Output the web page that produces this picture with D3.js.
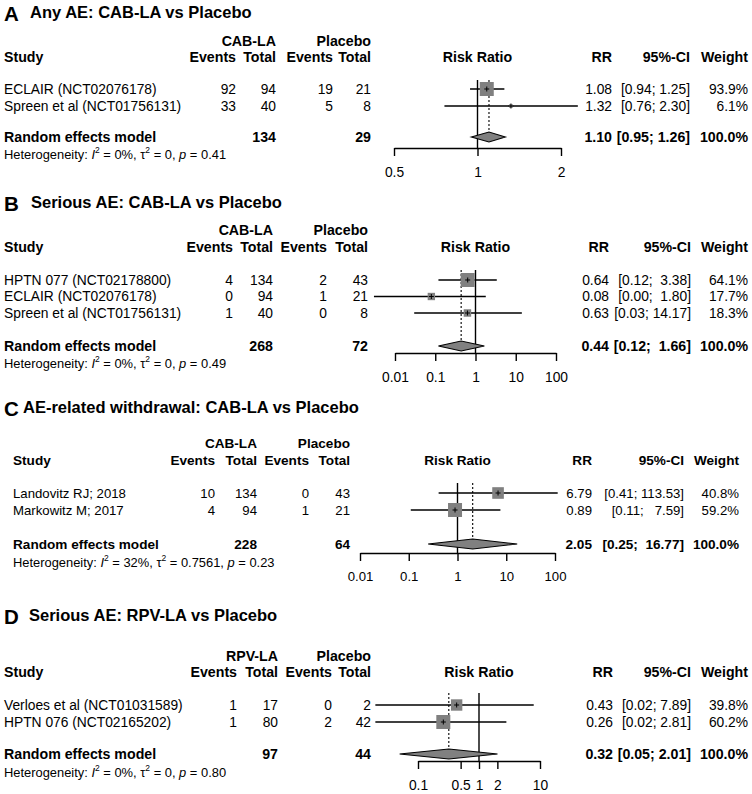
<!DOCTYPE html>
<html><head><meta charset="utf-8">
<script src="https://cdn.jsdelivr.net/npm/d3@7"></script>
<style>
html,body{margin:0;padding:0;background:#fff;}
svg text{font-family:"Liberation Sans",Arial,Helvetica,sans-serif;fill:#000;white-space:pre;}
</style></head>
<body>
<svg id="chart" width="752" height="794"></svg>
<script>
// ---------- DATA ----------
// Panel A: Any AE, CAB-LA vs Placebo
const aStudies = ["ECLAIR (NCT02076178)", "Spreen et al (NCT01756131)"];
const aEvents1 = [92, 33], aTotal1 = [94, 40], aEvents2 = [19, 5], aTotal2 = [21, 8];
const aRR = [1.08, 1.32], aLower = [0.94, 0.76], aUpper = [1.25, 2.30];
const aWeight = [93.9, 6.1];
const aPooled = [1.10, 0.95, 1.26], aTotals = [134, 29], aHet = ["0%", "0", "0.41"];
const aTicks = [0.5, 1, 2];

// Panel B: Serious AE, CAB-LA vs Placebo
const bStudies = ["HPTN 077 (NCT02178800)", "ECLAIR (NCT02076178)", "Spreen et al (NCT01756131)"];
const bEvents1 = [4, 0, 1], bTotal1 = [134, 94, 40], bEvents2 = [2, 1, 0], bTotal2 = [43, 21, 8];
const bRR = [0.64, 0.08, 0.63], bLower = [0.12, 0.003, 0.03], bUpper = [3.38, 1.80, 14.17];
const bWeight = [64.1, 17.7, 18.3];
const bPooled = [0.44, 0.12, 1.66], bTotals = [268, 72], bHet = ["0%", "0", "0.49"];
const bTicks = [0.01, 0.1, 1, 10, 100];

// Panel C: AE-related withdrawal, CAB-LA vs Placebo
const cStudies = ["Landovitz RJ; 2018", "Markowitz M; 2017"];
const cEvents1 = [10, 4], cTotal1 = [134, 94], cEvents2 = [0, 1], cTotal2 = [43, 21];
const cRR = [6.79, 0.89], cLower = [0.41, 0.11], cUpper = [113.53, 7.59];
const cWeight = [40.8, 59.2];
const cPooled = [2.05, 0.25, 16.77], cTotals = [228, 64], cHet = ["32%", "0.7561", "0.23"];
const cTicks = [0.01, 0.1, 1, 10, 100];

// Panel D: Serious AE, RPV-LA vs Placebo
const dStudies = ["Verloes et al (NCT01031589)", "HPTN 076 (NCT02165202)"];
const dEvents1 = [1, 1], dTotal1 = [17, 80], dEvents2 = [0, 2], dTotal2 = [2, 42];
const dRR = [0.43, 0.26], dLower = [0.02, 0.02], dUpper = [7.89, 2.81];
const dWeight = [39.8, 60.2];
const dPooled = [0.32, 0.05, 2.01], dTotals = [97, 44], dHet = ["0%", "0", "0.80"];
const dTicks = [0.1, 0.5, 1, 2, 10];

// ---------- LAYOUT ----------
const panels = [
  {letter:"A", title:"Any AE: CAB-LA vs Placebo", group:"CAB-LA",
   studies:aStudies, e1:aEvents1, n1:aTotal1, e2:aEvents2, n2:aTotal2, rr:aRR, lo:aLower, hi:aUpper, w:aWeight,
   pooled:aPooled, totals:aTotals, het:aHet, ticks:aTicks,
   titleY:12, titleX:30, h1:41, h2:57, rowStart:89, rowStep:17, reY:137, hetY:154, axisY:148, lineTop:80,
   studyX:4, cols:[236,276,333,371], rrX:612, ciX:690, wX:748, range:[394,561], font:13.8},
  {letter:"B", title:"Serious AE: CAB-LA vs Placebo", group:"CAB-LA",
   studies:bStudies, e1:bEvents1, n1:bTotal1, e2:bEvents2, n2:bTotal2, rr:bRR, lo:bLower, hi:bUpper, w:bWeight,
   pooled:bPooled, totals:bTotals, het:bHet, ticks:bTicks,
   titleY:202, titleX:31, h1:230, h2:247, rowStart:280, rowStep:16.5, reY:346, hetY:363, axisY:353, lineTop:270,
   studyX:4, cols:[233,273,327,368], rrX:609, ciX:691, wX:748, range:[395,556], font:13.8},
  {letter:"C", title:"AE-related withdrawal: CAB-LA vs Placebo", group:"CAB-LA",
   studies:cStudies, e1:cEvents1, n1:cTotal1, e2:cEvents2, n2:cTotal2, rr:cRR, lo:cLower, hi:cUpper, w:cWeight,
   pooled:cPooled, totals:cTotals, het:cHet, ticks:cTicks,
   titleY:407, titleX:23, h1:443, h2:460, rowStart:493, rowStep:17, reY:544, hetY:562, axisY:553, lineTop:483,
   studyX:13, cols:[215,257,309,350], rrX:592, ciX:684, wX:739, range:[360,555], font:13.2},
  {letter:"D", title:"Serious AE: RPV-LA vs Placebo", group:"RPV-LA",
   studies:dStudies, e1:dEvents1, n1:dTotal1, e2:dEvents2, n2:dTotal2, rr:dRR, lo:dLower, hi:dUpper, w:dWeight,
   pooled:dPooled, totals:dTotals, het:dHet, ticks:dTicks,
   titleY:615, titleX:29, h1:656, h2:672, rowStart:705, rowStep:17, reY:754, hetY:772, axisY:761, lineTop:693,
   studyX:4, cols:[237,278,332,371], rrX:613, ciX:691, wX:748, range:[418,540], font:13.8}
];

const svg = d3.select("#chart");
const GREY = "#808080";
const f2 = d3.format(".2f"), f1 = d3.format(".1f");

function txt(g, x, y, s, opts = {}) {
  return g.append("text").attr("x", x).attr("y", y)
    .attr("dominant-baseline", "central")
    .attr("text-anchor", opts.anchor || "start")
    .attr("font-size", opts.size)
    .attr("font-weight", opts.bold ? "bold" : "normal")
    .text(s);
}

panels.forEach(p => {
  const g = svg.append("g");
  const fs = p.font;
  const hfs = fs + 0.4;
  const x = d3.scaleLog().domain([p.ticks[0], p.ticks[p.ticks.length - 1]]).range(p.range);
  const rowsY = p.studies.map((_, i) => p.rowStart + i * p.rowStep);
  const size = d3.scaleSqrt().domain([0, d3.max(p.w)]).range([0, 14]);

  // titles
  txt(g, 4, p.titleY + 1, p.letter, {size: 20.5, bold: true});
  txt(g, p.titleX, p.titleY, p.title, {size: 16.5, bold: true});

  // headers
  txt(g, p.cols[1], p.h1, p.group, {size: hfs, bold: true, anchor: "end"});
  txt(g, p.cols[3], p.h1, "Placebo", {size: hfs, bold: true, anchor: "end"});
  txt(g, p.studyX, p.h2, "Study", {size: hfs, bold: true});
  ["Events", "Total", "Events", "Total"].forEach((h, i) =>
    txt(g, p.cols[i], p.h2, h, {size: hfs, bold: true, anchor: "end"}));
  txt(g, (p.range[0] + p.range[1]) / 2, p.h2, "Risk Ratio", {size: hfs, bold: true, anchor: "middle"});
  txt(g, p.rrX, p.h2, "RR", {size: hfs, bold: true, anchor: "end"});
  txt(g, p.ciX, p.h2, "95%-CI", {size: hfs, bold: true, anchor: "end"});
  txt(g, p.wX, p.h2, "Weight", {size: hfs, bold: true, anchor: "end"});

  // CI label formatting with padding like R meta
  const hiW = d3.max(p.hi.concat([p.pooled[2]]), v => f2(v).length);
  const ciLab = (lo, hi) => "[" + f2(lo) + "; " + f2(hi).padStart(hiW, " ") + "]";

  // study rows
  p.studies.forEach((s, i) => {
    const y = rowsY[i];
    txt(g, p.studyX, y, s, {size: fs});
    [p.e1[i], p.n1[i], p.e2[i], p.n2[i]].forEach((v, j) =>
      txt(g, p.cols[j], y, String(v), {size: fs, anchor: "end"}));
    txt(g, p.rrX, y, f2(p.rr[i]), {size: fs, anchor: "end"});
    txt(g, p.ciX, y, ciLab(p.lo[i], p.hi[i]), {size: fs, anchor: "end"});
    txt(g, p.wX, y, f1(p.w[i]) + "%", {size: fs, anchor: "end"});
  });

  // pooled row
  txt(g, p.studyX, p.reY, "Random effects model", {size: hfs, bold: true});
  txt(g, p.cols[1], p.reY, String(p.totals[0]), {size: hfs, bold: true, anchor: "end"});
  txt(g, p.cols[3], p.reY, String(p.totals[1]), {size: hfs, bold: true, anchor: "end"});
  txt(g, p.rrX, p.reY, f2(p.pooled[0]), {size: hfs, bold: true, anchor: "end"});
  txt(g, p.ciX, p.reY, ciLab(p.pooled[1], p.pooled[2]), {size: hfs, bold: true, anchor: "end"});
  txt(g, p.wX, p.reY, "100.0%", {size: hfs, bold: true, anchor: "end"});

  // heterogeneity
  const ht = g.append("text").attr("x", p.studyX).attr("y", p.hetY)
    .attr("dominant-baseline", "central").attr("font-size", 12.9);
  ht.append("tspan").text("Heterogeneity: ");
  ht.append("tspan").attr("font-style", "italic").text("I");
  ht.append("tspan").attr("font-size", 8.5).attr("dy", -4).text("2");
  ht.append("tspan").attr("dy", 4).text(" = " + p.het[0] + ", \u03C4");
  ht.append("tspan").attr("font-size", 8.5).attr("dy", -4).text("2");
  ht.append("tspan").attr("dy", 4).text(" = " + p.het[1] + ", ");
  ht.append("tspan").attr("font-style", "italic").text("p");
  ht.append("tspan").text(" = " + p.het[2]);

  // reference line at 1
  g.append("line").attr("x1", x(1)).attr("x2", x(1)).attr("y1", p.lineTop).attr("y2", p.axisY)
    .attr("stroke", "#000").attr("stroke-width", 1.4);
  // pooled dotted line
  const dh = 5;
  g.append("line").attr("x1", x(p.pooled[0])).attr("x2", x(p.pooled[0]))
    .attr("y1", p.lineTop).attr("y2", p.reY - dh)
    .attr("stroke", "#000").attr("stroke-width", 1.1).attr("stroke-dasharray", "2,2");

  // CI lines + squares
  p.studies.forEach((s, i) => {
    const y = rowsY[i];
    g.append("line").attr("x1", x(p.lo[i])).attr("x2", x(p.hi[i])).attr("y1", y).attr("y2", y)
      .attr("stroke", "#000").attr("stroke-width", 1.4);
    const sz = size(p.w[i]);
    g.append("rect").attr("x", x(p.rr[i]) - sz / 2).attr("y", y - sz / 2)
      .attr("width", sz).attr("height", sz).attr("fill", GREY);
    g.append("line").attr("x1", x(p.rr[i])).attr("x2", x(p.rr[i])).attr("y1", y - 2.5).attr("y2", y + 2.5)
      .attr("stroke", "#000").attr("stroke-width", 1);
    g.append("line").attr("x1", x(p.rr[i]) - 2.5).attr("x2", x(p.rr[i]) + 2.5).attr("y1", y).attr("y2", y)
      .attr("stroke", "#000").attr("stroke-width", 1);
  });

  // diamond
  const [est, lo, hi] = p.pooled;
  g.append("path")
    .attr("d", `M${x(lo)},${p.reY} L${x(est)},${p.reY - dh} L${x(hi)},${p.reY} L${x(est)},${p.reY + dh} Z`)
    .attr("fill", GREY).attr("stroke", "#000").attr("stroke-width", 1.1);

  // axis
  const ax = d3.axisBottom(x).tickValues(p.ticks).tickFormat(d => String(d))
    .tickSize(8).tickSizeOuter(0).tickPadding(11);
  const ag = g.append("g").attr("transform", `translate(0,${p.axisY})`).call(ax);
  ag.selectAll("path,line").attr("stroke", "#000").attr("stroke-width", 1.4);
  ag.selectAll("text").attr("font-size", fs).attr("font-family", "Liberation Sans, Arial, sans-serif");
});
</script>
</body></html>
